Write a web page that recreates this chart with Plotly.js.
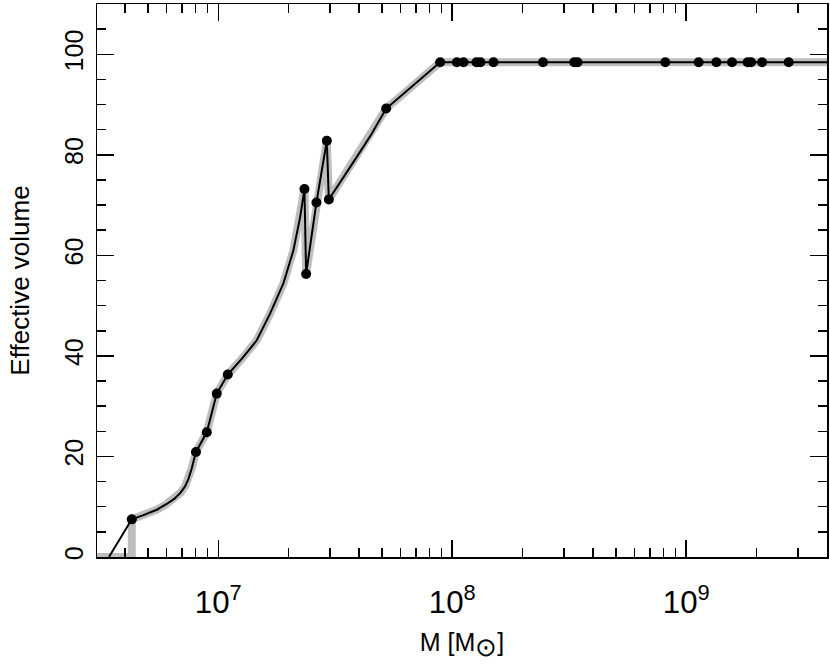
<!DOCTYPE html>
<html>
<head>
<meta charset="utf-8">
<script src="https://cdn.plot.ly/plotly-3.0.1.min.js"></script>
<style>html,body{margin:0;padding:0;background:#fff;}#plot{width:830px;height:664px;}</style>
</head>
<body>
<div id="plot"></div>
<script>
// Sampled points (dots)
const pointMass = [4.27e6, 8.03e6, 8.93e6, 9.85e6, 1.098e7, 2.335e7, 2.374e7, 2.627e7, 2.91e7, 2.969e7,
  5.22e7, 8.88e7, 1.047e8, 1.117e8, 1.27e8, 1.32e8, 1.501e8, 2.442e8, 3.322e8, 3.432e8,
  8.14e8, 1.13e9, 1.345e9, 1.57e9, 1.83e9, 1.893e9, 2.11e9, 2.741e9];
const pointVol = [7.49, 20.9, 24.8, 32.5, 36.3, 73.2, 56.3, 70.5, 82.8, 71.1,
  89.2, 98.4, 98.4, 98.4, 98.4, 98.4, 98.4, 98.4, 98.4, 98.4,
  98.4, 98.4, 98.4, 98.4, 98.4, 98.4, 98.4, 98.4];

// Black curve
const curveMass = [3.41e6, 4.27e6, 4.79e6, 5.46e6, 6.0e6, 6.5e6, 6.9e6, 7.2e6, 7.45e6, 7.7e6, 8.03e6, 8.93e6, 9.85e6, 1.098e7,
  1.27e7, 1.461e7, 1.665e7, 1.898e7, 2.095e7, 2.238e7, 2.335e7, 2.374e7, 2.627e7, 2.91e7, 2.969e7,
  3.4e7, 3.91e7, 4.5e7, 5.22e7, 8.88e7, 6e9];
const curveVol = [0, 7.49, 8.34, 9.4, 10.5, 11.6, 12.8, 14.0, 15.5, 17.6, 20.9, 24.8, 32.5, 36.3,
  39.6, 43.1, 48.4, 54.4, 61.0, 67.6, 73.2, 56.3, 70.5, 82.8, 71.1,
  75.4, 79.6, 84.0, 89.2, 98.4, 98.4];

// Grey band: step at zero before the first point, then the same curve
const stepMass = [2e6, 4.27e6];
const stepVol = [0, 0];

const greyMass = stepMass.concat(curveMass.slice(1));
const greyVol = stepVol.concat(curveVol.slice(1));

const xTitle = 'M [M<sub><span style="font-size:26px">⊙</span></sub>]';
const yTitle = 'Effective volume';

const traces = [
  {x: greyMass, y: greyVol, mode: 'lines', line: {color: '#bebebe', width: 8}, hoverinfo: 'skip', showlegend: false},
  {x: curveMass, y: curveVol, mode: 'lines', line: {color: '#000', width: 2}, showlegend: false},
  {x: pointMass, y: pointVol, mode: 'markers', marker: {color: '#000', size: 10}, showlegend: false}
];

const font = {family: 'Liberation Sans, Arial, Helvetica, sans-serif', color: '#000'};

const layout = {
  width: 830, height: 664,
  margin: {l: 97, r: 3, t: 4, b: 107},
  paper_bgcolor: '#fff', plot_bgcolor: '#fff',
  font: Object.assign({size: 25}, font),
  showlegend: false,
  xaxis: {
    type: 'log', range: [6.4817, 9.6017], dtick: 1, exponentformat: 'power',
    ticks: 'inside', ticklen: 17, tickwidth: 1.5, tickcolor: '#000',
    showline: true, linecolor: '#000', linewidth: 1.5, mirror: 'allticks',
    showgrid: false, zeroline: false,
    minor: {ticks: 'inside', ticklen: 9, tickwidth: 1.5, tickcolor: '#000', dtick: 'D1', showgrid: false},
    tickfont: Object.assign({size: 25}, font),
    ticklabelstandoff: 18,
    title: {text: xTitle, font: Object.assign({size: 25}, font), standoff: 14}
  },
  yaxis: {
    range: [0, 110], tick0: 0, dtick: 20,
    ticks: 'inside', ticklen: 17, tickwidth: 1.5, tickcolor: '#000',
    showline: true, linecolor: '#000', linewidth: 1.5, mirror: 'allticks',
    showgrid: false, zeroline: false, tickangle: -90,
    minor: {ticks: 'inside', ticklen: 9, tickwidth: 1.5, tickcolor: '#000', dtick: 5, showgrid: false},
    tickfont: Object.assign({size: 25}, font),
    ticklabelstandoff: 3,
    title: {text: yTitle, font: Object.assign({size: 26}, font), standoff: 22}
  }
};

Plotly.newPlot('plot', traces, layout, {displayModeBar: false, staticPlot: true});
</script>
</body>
</html>
